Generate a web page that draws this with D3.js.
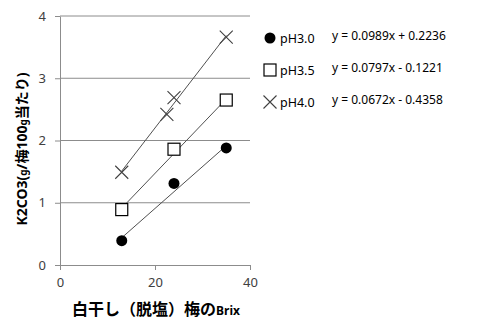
<!DOCTYPE html>
<html>
<head>
<meta charset="utf-8">
<script src="https://cdn.jsdelivr.net/npm/d3@7"></script>
<style>
  body { margin: 0; background: #fff; }
  svg text { font-family: "Noto Sans", "Noto Sans CJK JP", sans-serif; }
</style>
</head>
<body>
<div id="chart"></div>
<script>
// data
const seriesNames = ["pH3.0", "pH3.5", "pH4.0"];
const equations = ["y = 0.0989x + 0.2236", "y = 0.0797x - 0.1221", "y = 0.0672x - 0.4358"];
const circleX = [13, 24, 35];
const circleY = [0.39, 1.31, 1.88];
const squareX = [13, 24, 35];
const squareY = [0.89, 1.86, 2.65];
const crossX = [13, 22.5, 24, 35];
const crossY = [1.49, 2.42, 2.69, 3.66];
// trend lines (slope, intercept) through each point group
const trendCircle = [0.0672, -0.4358];
const trendSquare = [0.0797, -0.1221];
const trendCross = [0.0989, 0.2236];
const xTicks = [0, 20, 40];
const yTicks = [0, 1, 2, 3, 4];

const width = 480, height = 324;
const margin = { top: 16, right: 230, bottom: 59, left: 60 };

const svg = d3.select("#chart").append("svg")
    .attr("width", width)
    .attr("height", height);

const x = d3.scaleLinear().domain([0, 40]).range([margin.left, width - margin.right]);
const y = d3.scaleLinear().domain([0, 4]).range([height - margin.bottom, margin.top]);

// gridlines
svg.append("g")
    .selectAll("line")
    .data(yTicks.filter(d => d > 0))
    .join("line")
    .attr("x1", x(0)).attr("x2", x(40))
    .attr("y1", d => y(d)).attr("y2", d => y(d))
    .attr("stroke", "#8c8c8c")
    .attr("stroke-width", 1);

// axes
const xAxis = svg.append("g")
    .attr("transform", `translate(0,${y(0)})`)
    .call(d3.axisBottom(x).tickValues(xTicks).tickSize(5).tickSizeOuter(0).tickPadding(8));
const yAxis = svg.append("g")
    .attr("transform", `translate(${x(0)},0)`)
    .call(d3.axisLeft(y).tickValues(yTicks).tickFormat(d3.format("d")).tickSize(5).tickSizeOuter(0).tickPadding(9));

[xAxis, yAxis].forEach(g => {
    g.select(".domain").attr("stroke", "#8c8c8c");
    g.selectAll(".tick line").attr("stroke", "#8c8c8c");
    g.selectAll(".tick text").attr("fill", "#404040").style("font-size", "13px");
});

// trend lines
const line = d3.line().x(d => x(d[0])).y(d => y(d[1]));
function trend(xs, t) {
    const x0 = d3.min(xs), x1 = d3.max(xs);
    return [[x0, t[0] * x0 + t[1]], [x1, t[0] * x1 + t[1]]];
}
[[circleX, trendCircle], [squareX, trendSquare], [crossX, trendCross]].forEach(([xs, t]) => {
    svg.append("path")
        .attr("d", line(trend(xs, t)))
        .attr("fill", "none")
        .attr("stroke", "#505050")
        .attr("stroke-width", 1);
});

// markers
function drawCircle(g, cx, cy) {
    g.append("circle").attr("cx", cx).attr("cy", cy).attr("r", 5.5).attr("fill", "#000");
}
function drawSquare(g, cx, cy) {
    g.append("rect").attr("x", cx - 6).attr("y", cy - 6).attr("width", 12).attr("height", 12)
        .attr("fill", "#fff").attr("stroke", "#000").attr("stroke-width", 1.2);
}
function drawCross(g, cx, cy) {
    const s = 6.5;
    g.append("path").attr("d", `M${cx - s},${cy - s}L${cx + s},${cy + s}M${cx - s},${cy + s}L${cx + s},${cy - s}`)
        .attr("stroke", "#404040").attr("stroke-width", 1.1);
}

const marks = svg.append("g");
circleX.forEach((d, i) => drawCircle(marks, x(d), y(circleY[i])));
squareX.forEach((d, i) => drawSquare(marks, x(d), y(squareY[i])));
crossX.forEach((d, i) => drawCross(marks, x(d), y(crossY[i])));

// legend
const drawers = [drawCircle, drawSquare, drawCross];
const legend = svg.append("g");
seriesNames.forEach((name, i) => {
    const ly = 38 + i * 32;
    drawers[i](legend, 270, ly);
    legend.append("text").attr("x", 280).attr("y", ly + 4.5)
        .style("font-size", "12.5px").attr("fill", "#000").text(name);
    legend.append("text").attr("x", 332).attr("y", ly + 2)
        .style("font-size", "12px").attr("fill", "#000").text(equations[i]);
});

// axis titles
const xTitle = svg.append("text")
    .attr("x", 156).attr("y", 315)
    .attr("text-anchor", "middle")
    .style("font-size", "16px").style("font-weight", "bold")
    .attr("fill", "#000");
xTitle.append("tspan").text("白干し（脱塩）梅の");
xTitle.append("tspan").style("font-size", "12px").text("Brix");

const yTitle = svg.append("text")
    .attr("transform", `translate(27,149) rotate(-90)`)
    .attr("text-anchor", "middle")
    .style("font-size", "14px").style("font-weight", "bold")
    .attr("fill", "#000");
yTitle.append("tspan").text("K2CO3(");
yTitle.append("tspan").style("font-size", "10px").text("g");
yTitle.append("tspan").text("/梅100");
yTitle.append("tspan").style("font-size", "10px").text("g");
yTitle.append("tspan").text("当たり)");
</script>
</body>
</html>
